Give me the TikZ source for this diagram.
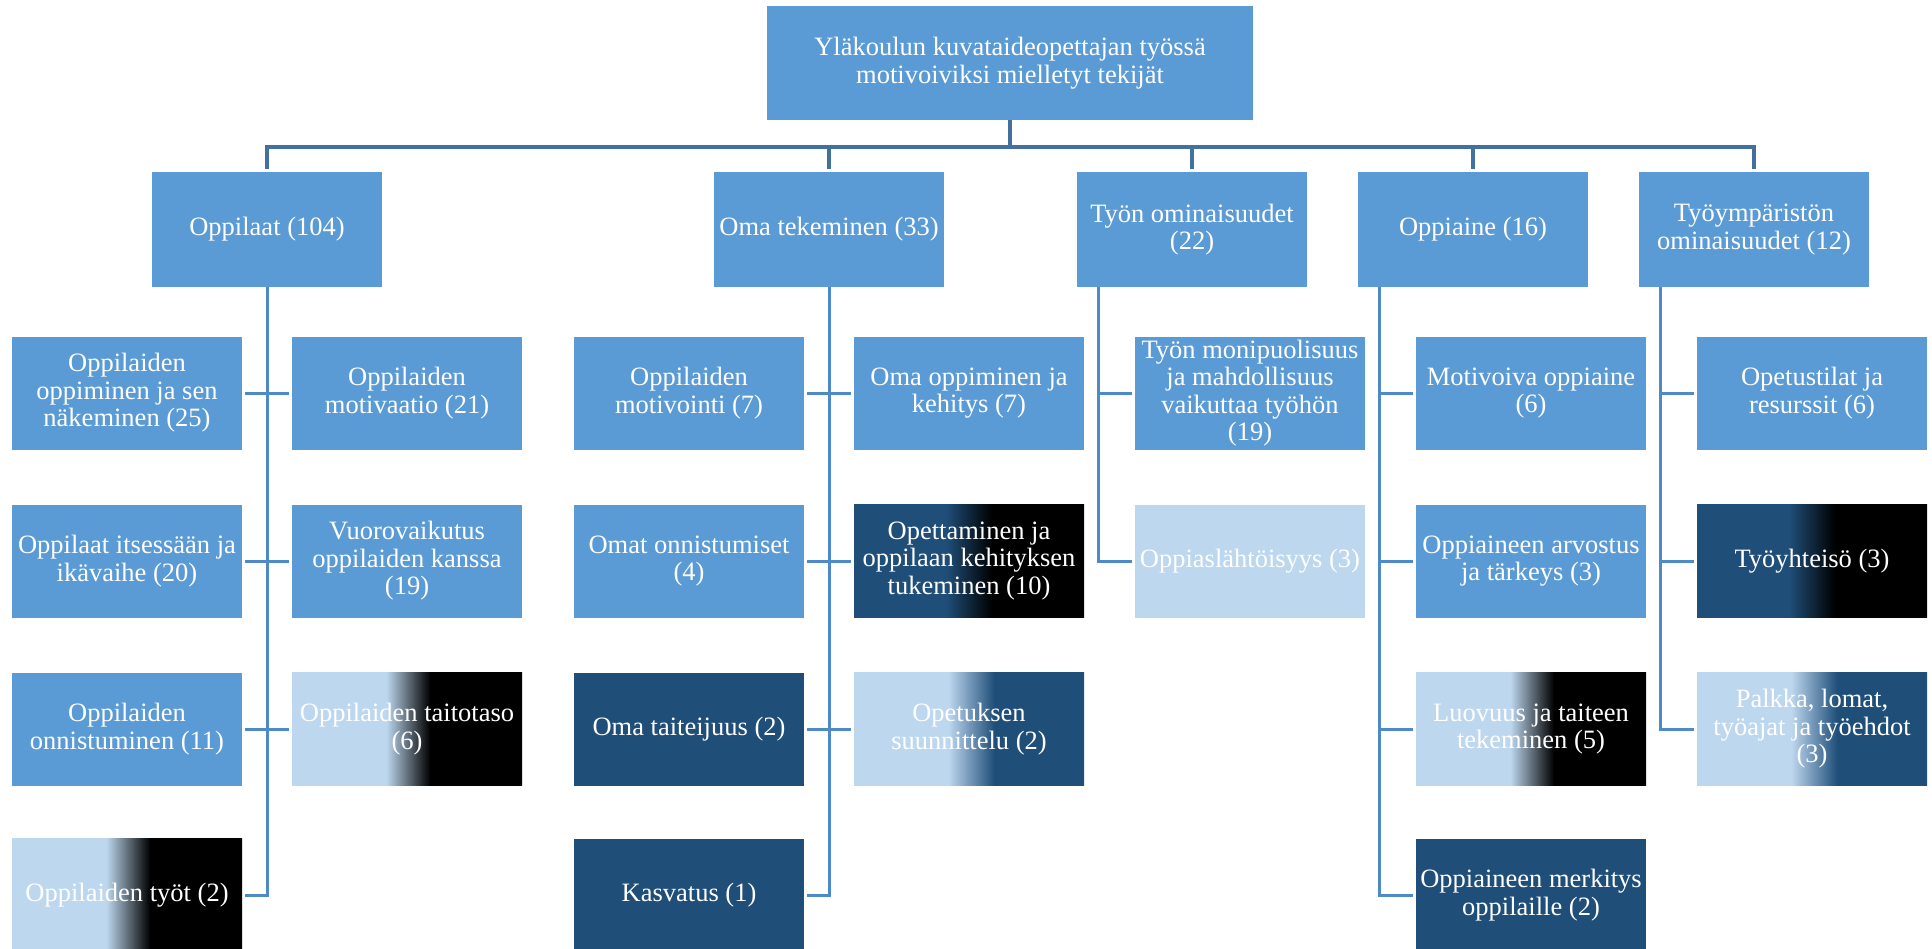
\documentclass[tikz,border=0pt]{standalone}
\usepackage{fontspec}
\setmainfont{Liberation Serif}
\usetikzlibrary{calc}
\definecolor{cmid}{HTML}{5B9BD5}
\definecolor{clight}{HTML}{BDD7EE}
\definecolor{cdark}{HTML}{1F4E79}
\definecolor{cline}{HTML}{4E8AC8}
\definecolor{cbus}{HTML}{41719C}
\pgfdeclarehorizontalshading{ltblack}{100bp}{color(0bp)=(clight); color(45.5bp)=(clight); color(55bp)=(black); color(100bp)=(black)}
\pgfdeclarehorizontalshading{dkblack}{100bp}{color(0bp)=(cdark); color(45bp)=(cdark); color(55bp)=(black); color(100bp)=(black)}
\pgfdeclarehorizontalshading{ltdark}{100bp}{color(0bp)=(clight); color(45.5bp)=(clight); color(55.5bp)=(cdark); color(100bp)=(cdark)}
\tikzset{
  every picture/.style={font=\fontsize{26.5}{27.5}\selectfont},
  box/.style={fill=#1, text=white, align=center, inner sep=0pt, minimum width=230pt, minimum height=113pt},
  box/.default=cmid,
  fmid/.style={box=cmid},
  flight/.style={box=clight},
  fdark/.style={box=cdark},
  gltbk/.style={box=clight, shade, shading=ltblack},
  gdkbk/.style={box=cdark, shade, shading=dkblack},
  gltdk/.style={box=clight, shade, shading=ltdark},
  bus/.style={draw=cbus, line width=3.5pt},
  link/.style={draw=cline, line width=3pt},
}

\begin{document}
\begin{tikzpicture}[x=1pt, y=-1pt]
  \useasboundingbox (0,0) rectangle (1932,948);
  \node[box, minimum width=486pt, minimum height=114pt] (top) at (1010,63) {Yläkoulun kuvataideopettajan työssä\\motivoiviksi mielletyt tekijät};
  % main categories
  \foreach \n/\x/\lab in {p1/267/{Oppilaat (104)}, p2/829/{Oma tekeminen (33)}, p3/1192/{Työn ominaisuudet\\(22)}, p4/1473/{Oppiaine (16)}, p5/1754/{Työympäristön\\ominaisuudet (12)}} {
    \node[box, minimum height=115pt] (\n) at (\x,229.5) {\lab};
    \draw[bus] (top.south) -- ++(0,27) -| ([yshift=3pt]\n.north);
  }
  % Oppilaat
  \foreach \n/\x/\y/\s/\lab in {ol1/127/393/fmid/{Oppilaiden\\oppiminen ja sen\\näkeminen (25)}, or1/407/393/fmid/{Oppilaiden\\motivaatio (21)},
    ol2/127/561/fmid/{Oppilaat itsessään ja\\ikävaihe (20)}, or2/407/561/fmid/{Vuorovaikutus\\oppilaiden kanssa\\(19)},
    ol3/127/729/fmid/{Oppilaiden\\onnistuminen (11)}, or3/407/729/gltbk/{Oppilaiden taitotaso\\(6)},
    ol4/127/895/gltbk/{Oppilaiden työt (2)}}
    \node[\s] (\n) at (\x,\y) {\lab};
  \draw[link] (p1.south) |- ([xshift=3pt]ol4.east);
  \foreach \i in {1,2,3} \draw[link] ([xshift=3pt]ol\i.east) -- ([xshift=-3pt]or\i.west);
  % Oma tekeminen
  \foreach \n/\x/\y/\s/\lab in {ml1/689/393/fmid/{Oppilaiden\\motivointi (7)}, mr1/969/393/fmid/{Oma oppiminen ja\\kehitys (7)},
    ml2/689/561/fmid/{Omat onnistumiset\\(4)}, mr2/969/561/gdkbk/{Opettaminen ja\\oppilaan kehityksen\\tukeminen (10)},
    ml3/689/729/fdark/{Oma taiteijuus (2)}, mr3/969/729/gltdk/{Opetuksen\\suunnittelu (2)},
    ml4/689/895/fdark/{Kasvatus (1)}}
    \node[\s] (\n) at (\x,\y) {\lab};
  \draw[link] (p2.south) |- ([xshift=3pt]ml4.east);
  \foreach \i in {1,2,3} \draw[link] ([xshift=3pt]ml\i.east) -- ([xshift=-3pt]mr\i.west);
  % right-hand groups
  \foreach \n/\y/\s/\lab in {t1/393/fmid/{Työn monipuolisuus\\ja mahdollisuus\\vaikuttaa työhön\\(19)}, t2/561/flight/{Oppiaslähtöisyys (3)}}
    \node[\s] (\n) at (1250,\y) {\lab};
  \foreach \n/\y/\s/\lab in {o1/393/fmid/{Motivoiva oppiaine\\(6)}, o2/561/fmid/{Oppiaineen arvostus\\ja tärkeys (3)}, o3/729/gltbk/{Luovuus ja taiteen\\tekeminen (5)}, o4/895/fdark/{Oppiaineen merkitys\\oppilaille (2)}}
    \node[\s] (\n) at (1531,\y) {\lab};
  \foreach \n/\y/\s/\lab in {y1/393/fmid/{Opetustilat ja\\resurssit (6)}, y2/561/gdkbk/{Työyhteisö (3)}, y3/729/gltdk/{Palkka, lomat,\\työajat ja työehdot\\(3)}}
    \node[\s] (\n) at (1812,\y) {\lab};
  \coordinate (s3) at ([xshift=22pt]p3.south west);
  \coordinate (s4) at ([xshift=22pt]p4.south west);
  \coordinate (s5) at ([xshift=22pt]p5.south west);
  \foreach \c in {t1,t2} \draw[link] (s3) |- ([xshift=-3pt]\c.west);
  \foreach \c in {o1,o2,o3,o4} \draw[link] (s4) |- ([xshift=-3pt]\c.west);
  \foreach \c in {y1,y2,y3} \draw[link] (s5) |- ([xshift=-3pt]\c.west);
\end{tikzpicture}
\end{document}
